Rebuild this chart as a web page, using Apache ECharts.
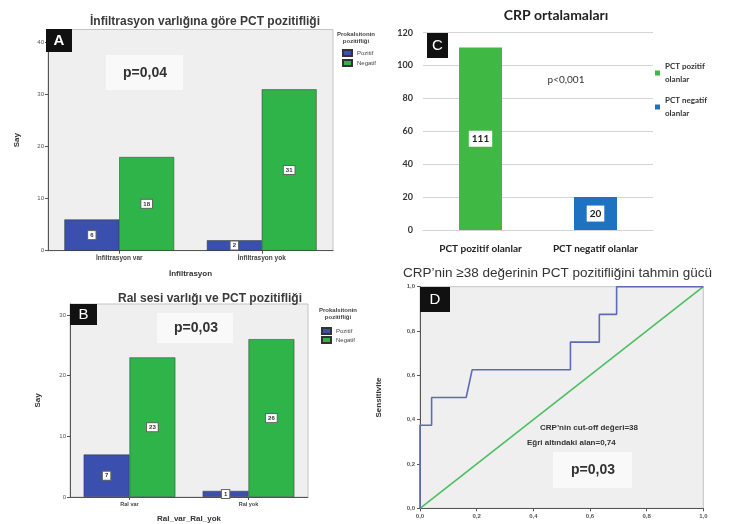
<!DOCTYPE html>
<html>
<head>
<meta charset="utf-8">
<script src="https://cdn.jsdelivr.net/npm/echarts@6/dist/echarts.min.js"></script>
<style>
  html, body { margin: 0; padding: 0; background: #fff; }
  #chart { width: 730px; height: 524px; }
</style>
</head>
<body>
<div id="chart"></div>
<script>
// Panel A: PCT positivity by infiltration
const catA = ['İnfiltrasyon var', 'İnfiltrasyon yok'];
const posA = [6, 2];
const negA = [18, 31];

// Panel B: PCT positivity by rales
const catB = ['Ral var', 'Ral yok'];
const posB = [7, 1];
const negB = [23, 26];

// Panel C: mean CRP by PCT group
const catC = ['PCT pozitif olanlar', 'PCT negatif olanlar'];
const crpMean = [111, 20];

// Panel D: ROC curve of CRP >= 38 (1 - specificity, sensitivity)
const rocFpr = [0, 0, 0.041, 0.041, 0.163, 0.184, 0.531, 0.531, 0.633, 0.633, 0.694, 0.694, 1];
const rocTpr = [0, 0.375, 0.375, 0.5, 0.5, 0.625, 0.625, 0.75, 0.75, 0.875, 0.875, 1, 1];
const refFpr = [0, 1];
const refTpr = [0, 1];

const BLUE = '#3b4fae';
const GREEN = '#2fb44a';
const XL_GREEN = '#40b844';
const XL_BLUE = '#1e72c2';
const SANS = 'Liberation Sans, Arial, sans-serif';

const chart = echarts.init(document.getElementById('chart'));

const spssGrid = { show: true, backgroundColor: '#efefef', borderColor: '#c4c4c4', borderWidth: 1 };

function countLabel(fs) {
  return {
    show: true, position: 'inside', formatter: '{c}',
    backgroundColor: '#fff', borderColor: '#666', borderWidth: 1,
    padding: [1, 2], fontSize: fs, color: '#333', fontFamily: SANS, fontWeight: 'bold'
  };
}

function commaFmt(v) { return v.toFixed(1).replace('.', ','); }

const spssY = (gridIndex, max, name, gap) => ({
  type: 'value', gridIndex: gridIndex, min: 0, max: max, interval: 10,
  name: name, nameLocation: 'middle', nameGap: gap, nameRotate: 90,
  nameTextStyle: { fontSize: 8, fontWeight: 'bold', color: '#333', fontFamily: SANS },
  axisLine: { show: true, lineStyle: { color: '#555' } },
  axisTick: { show: true, length: 3, lineStyle: { color: '#555' } },
  axisLabel: { fontSize: 6, color: '#555', margin: 4, showMaxLabel: false, fontFamily: SANS },
  splitLine: { show: false }
});

const spssX = (gridIndex, cats, name, gap, fs) => ({
  type: 'category', gridIndex: gridIndex, data: cats,
  name: name, nameLocation: 'middle', nameGap: gap,
  nameTextStyle: { fontSize: 8, fontWeight: 'bold', color: '#333', fontFamily: SANS },
  axisLine: { show: true, lineStyle: { color: '#555' } },
  axisTick: { show: true, alignWithLabel: true, length: 3, lineStyle: { color: '#555' } },
  axisLabel: { fontSize: fs, color: '#444', margin: 4, fontFamily: SANS, fontWeight: 'bold' }
});

const rocAxis = (extra) => Object.assign({
  type: 'value', gridIndex: 3, min: 0, max: 1, interval: 0.2,
  axisLine: { show: true, lineStyle: { color: '#555' } },
  axisTick: { show: true, length: 3, lineStyle: { color: '#555' } },
  axisLabel: { fontSize: 6, color: '#555', formatter: commaFmt, margin: 5, fontFamily: SANS, fontWeight: 'bold' },
  splitLine: { show: false }
}, extra);

const option = {
  backgroundColor: '#fff',
  animation: false,
  grid: [
    Object.assign({ left: 48, top: 29.5, width: 285, height: 221.2 }, spssGrid),
    Object.assign({ left: 70, top: 304, width: 238, height: 193.3 }, spssGrid),
    { left: 423, top: 32.7, width: 230, height: 197.3, show: false },
    Object.assign({ left: 420, top: 286.7, width: 283.3, height: 221.6 }, spssGrid)
  ],
  xAxis: [
    spssX(0, catA, 'İnfiltrasyon', 19, 6.5),
    spssX(1, catB, 'Ral_var_Ral_yok', 18, 5.5),
    {
      type: 'category', data: catC, gridIndex: 2,
      axisLine: { show: true, lineStyle: { color: '#d4d4d4' } },
      axisTick: { show: false },
      axisLabel: { fontSize: 10, color: '#222', fontWeight: 'bold', margin: 14, fontFamily: 'Lato, sans-serif' }
    },
    rocAxis({})
  ],
  yAxis: [
    spssY(0, 42.5, 'Say', 27),
    spssY(1, 31.8, 'Say', 28),
    {
      type: 'value', gridIndex: 2, min: 0, max: 120, interval: 20,
      axisLine: { show: false }, axisTick: { show: false },
      axisLabel: { fontSize: 9, color: '#333', margin: 10, fontFamily: 'Lato, sans-serif', fontWeight: 'bold' },
      splitLine: { show: true, lineStyle: { color: '#d4d4d4', width: 1.2 } }
    },
    rocAxis({
      name: 'Sensitivite', nameLocation: 'middle', nameGap: 37, nameRotate: 90,
      nameTextStyle: { fontSize: 8, fontWeight: 'bold', color: '#333', fontFamily: SANS }
    })
  ],
  legend: [
    {
      data: ['Pozitif', 'Negatif'], orient: 'vertical', left: 337, top: 44,
      itemWidth: 9, itemHeight: 6, itemGap: 2, icon: 'rect',
      textStyle: { fontSize: 6, color: '#444', fontFamily: SANS }
    },
    {
      data: ['Pozitif', 'Negatif'], orient: 'vertical', left: 316, top: 322,
      itemWidth: 9, itemHeight: 6, itemGap: 1, icon: 'rect',
      textStyle: { fontSize: 6, color: '#444', fontFamily: SANS }
    },
    {
      data: catC, orient: 'vertical', left: 650, top: 55, icon: 'rect',
      itemWidth: 5, itemHeight: 5, itemGap: 8,
      formatter: n => n.replace(' olanlar', '\nolanlar'),
      textStyle: { fontSize: 8, color: '#333', lineHeight: 13, fontFamily: 'Lato, sans-serif', fontWeight: 'bold' }
    }
  ],
  series: [
    {
      name: 'Pozitif', type: 'bar', xAxisIndex: 0, yAxisIndex: 0, data: posA,
      barGap: '0%', barCategoryGap: '23%', itemStyle: { color: BLUE, borderColor: '#333', borderWidth: 0.5 },
      label: countLabel(6)
    },
    {
      name: 'Negatif', type: 'bar', xAxisIndex: 0, yAxisIndex: 0, data: negA,
      barGap: '0%', barCategoryGap: '23%', itemStyle: { color: GREEN, borderColor: '#333', borderWidth: 0.5 },
      label: countLabel(6)
    },
    {
      name: 'Pozitif', type: 'bar', xAxisIndex: 1, yAxisIndex: 1, data: posB,
      barGap: '0%', barCategoryGap: '23%', itemStyle: { color: BLUE, borderColor: '#333', borderWidth: 0.5 },
      label: countLabel(6)
    },
    {
      name: 'Negatif', type: 'bar', xAxisIndex: 1, yAxisIndex: 1, data: negB,
      barGap: '0%', barCategoryGap: '23%', itemStyle: { color: GREEN, borderColor: '#333', borderWidth: 0.5 },
      label: countLabel(6)
    },
    {
      name: catC[0], type: 'bar', xAxisIndex: 2, yAxisIndex: 2, stack: 'crp', barWidth: 43,
      data: [crpMean[0], '-'], itemStyle: { color: XL_GREEN },
      label: { show: true, position: 'inside', backgroundColor: '#fff', padding: [3, 3], fontSize: 10, fontWeight: 'bold', color: '#222', fontFamily: 'Lato, sans-serif' }
    },
    {
      name: catC[1], type: 'bar', xAxisIndex: 2, yAxisIndex: 2, stack: 'crp', barWidth: 43,
      data: ['-', crpMean[1]], itemStyle: { color: XL_BLUE },
      label: { show: true, position: 'inside', backgroundColor: '#fff', padding: [3, 3], fontSize: 10, fontWeight: 'bold', color: '#222', fontFamily: 'Lato, sans-serif' }
    },
    {
      name: 'ROC', type: 'line', xAxisIndex: 3, yAxisIndex: 3, symbol: 'none',
      data: rocFpr.map((x, i) => [x, rocTpr[i]]),
      lineStyle: { color: '#5f6bb2', width: 1.6 }, z: 3
    },
    {
      name: 'Referans', type: 'line', xAxisIndex: 3, yAxisIndex: 3, symbol: 'none',
      data: refFpr.map((x, i) => [x, refTpr[i]]),
      lineStyle: { color: '#4cbf62', width: 1.6 }, z: 2
    }
  ],
  graphic: [
    // Titles
    { type: 'text', x: 205, y: 22, style: { text: 'İnfiltrasyon varlığına göre PCT pozitifliği', font: 'bold 12px ' + SANS, fill: '#3a3a3a', align: 'center', verticalAlign: 'middle' } },
    { type: 'text', x: 210, y: 299, style: { text: 'Ral sesi varlığı ve PCT pozitifliği', font: 'bold 12px ' + SANS, fill: '#3a3a3a', align: 'center', verticalAlign: 'middle' } },
    { type: 'text', x: 556, y: 15, style: { text: 'CRP ortalamaları', font: 'bold 14px Lato, sans-serif', fill: '#222', align: 'center', verticalAlign: 'middle' } },
    { type: 'text', x: 403, y: 273, style: { text: 'CRP\u2019nin \u226538 değerinin PCT pozitifliğini tahmin gücü', font: '13.5px ' + SANS, fill: '#333', align: 'left', verticalAlign: 'middle' } },

    // SPSS legend headings
    { type: 'text', x: 356, y: 38, style: { text: 'Prokalsitonin\npozitifliği', font: 'bold 6px ' + SANS, fill: '#444', align: 'center', verticalAlign: 'middle', lineHeight: 7 } },
    { type: 'text', x: 338, y: 314, style: { text: 'Prokalsitonin\npozitifliği', font: 'bold 6px ' + SANS, fill: '#444', align: 'center', verticalAlign: 'middle', lineHeight: 7 } },

    // p-value boxes
    { type: 'rect', shape: { x: 106, y: 55, width: 77, height: 35 }, style: { fill: '#f9f9f9' }, z: 5 },
    { type: 'text', x: 145, y: 73, style: { text: 'p=0,04', font: 'bold 14px ' + SANS, fill: '#333', align: 'center', verticalAlign: 'middle' }, z: 6 },
    { type: 'rect', shape: { x: 157, y: 313, width: 76, height: 30 }, style: { fill: '#f9f9f9' }, z: 5 },
    { type: 'text', x: 196, y: 328, style: { text: 'p=0,03', font: 'bold 14px ' + SANS, fill: '#333', align: 'center', verticalAlign: 'middle' }, z: 6 },
    { type: 'text', x: 566, y: 80, style: { text: 'p<0,001', font: '10px Lato, sans-serif', fill: '#333', align: 'center', verticalAlign: 'middle' }, z: 6 },
    { type: 'rect', shape: { x: 553, y: 452, width: 79, height: 36 }, style: { fill: '#f9f9f9' }, z: 5 },
    { type: 'text', x: 593, y: 470, style: { text: 'p=0,03', font: 'bold 14px ' + SANS, fill: '#333', align: 'center', verticalAlign: 'middle' }, z: 6 },

    // ROC annotation
    { type: 'text', x: 540, y: 428, style: { text: 'CRP\u2019nin cut-off değeri=38', font: 'bold 8px ' + SANS, fill: '#333', align: 'left', verticalAlign: 'middle' }, z: 6 },
    { type: 'text', x: 527, y: 443, style: { text: 'Eğri altındaki alan=0,74', font: 'bold 8px ' + SANS, fill: '#333', align: 'left', verticalAlign: 'middle' }, z: 6 },

    // Panel letters
    { type: 'rect', shape: { x: 46, y: 29, width: 26, height: 23 }, style: { fill: '#111' }, z: 7 },
    { type: 'text', x: 59, y: 41, style: { text: 'A', font: 'bold 15px ' + SANS, fill: '#fff', align: 'center', verticalAlign: 'middle' }, z: 8 },
    { type: 'rect', shape: { x: 70, y: 304, width: 27, height: 21 }, style: { fill: '#111' }, z: 7 },
    { type: 'text', x: 83.5, y: 315, style: { text: 'B', font: '15px ' + SANS, fill: '#fff', align: 'center', verticalAlign: 'middle' }, z: 8 },
    { type: 'rect', shape: { x: 427, y: 33, width: 21, height: 25 }, style: { fill: '#111' }, z: 7 },
    { type: 'text', x: 437.5, y: 46, style: { text: 'C', font: '15px ' + SANS, fill: '#fff', align: 'center', verticalAlign: 'middle' }, z: 8 },
    { type: 'rect', shape: { x: 420, y: 287, width: 30, height: 25 }, style: { fill: '#111' }, z: 7 },
    { type: 'text', x: 435, y: 300, style: { text: 'D', font: '15px ' + SANS, fill: '#fff', align: 'center', verticalAlign: 'middle' }, z: 8 }
  ]
};

chart.setOption(option);
</script>
</body>
</html>
